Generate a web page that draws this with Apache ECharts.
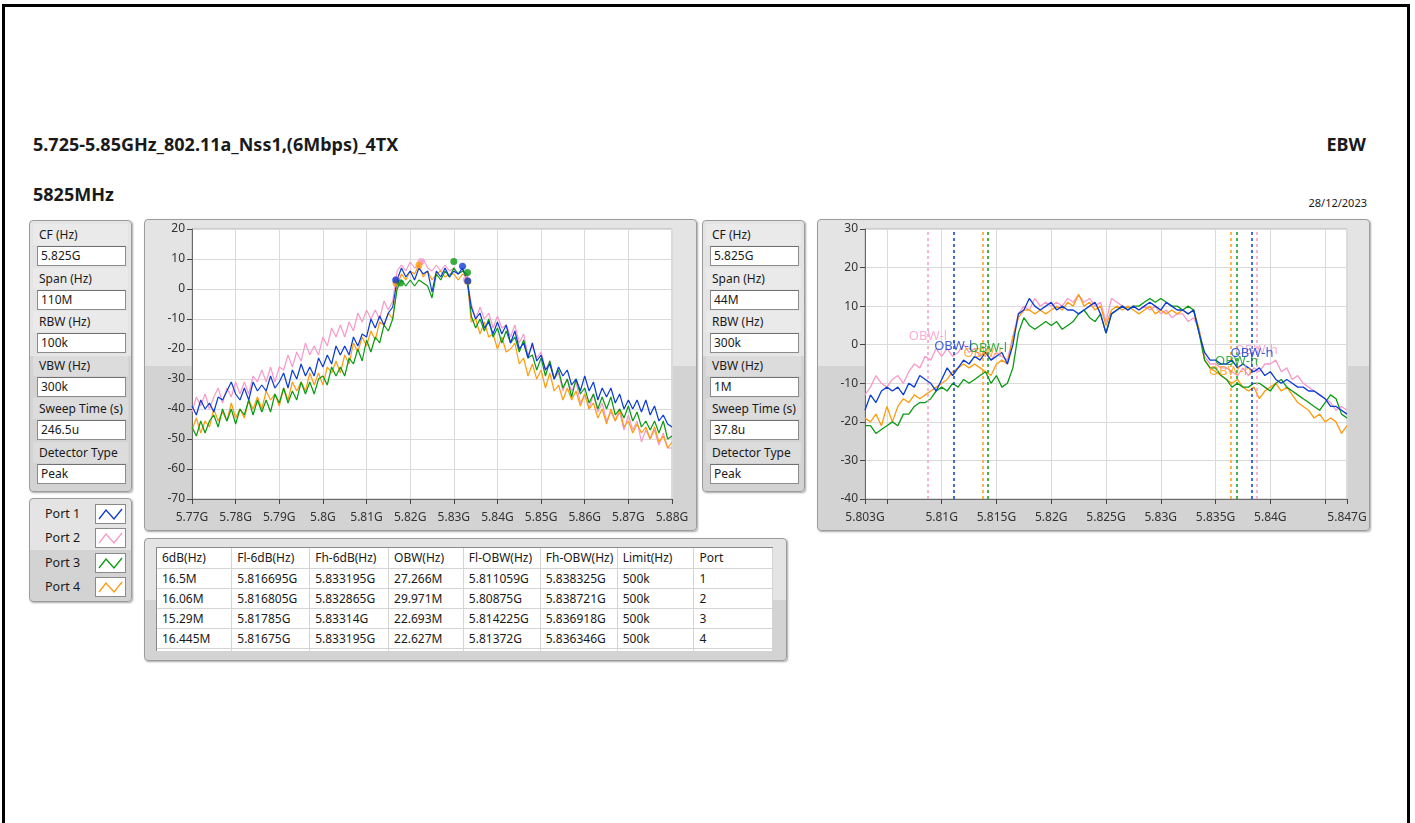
<!DOCTYPE html>
<html><head><meta charset="utf-8">
<script src="https://cdn.jsdelivr.net/npm/echarts@6/dist/echarts.min.js"></script>
<style>
html,body{margin:0;padding:0;background:#fff;}
body{width:1415px;height:823px;position:relative;overflow:hidden;font-family:"Noto Sans",sans-serif;color:#1a1a1a;}
.frame{position:absolute;left:2px;top:4px;width:1402px;height:900px;border:3px solid #000;border-bottom:none;}
.t{position:absolute;white-space:nowrap;}
.panel{position:absolute;box-sizing:border-box;border:1px solid #9c9c9c;border-radius:4px;
  background:linear-gradient(#e4e4e4 0,#e4e4e4 50%,#d3d3d3 50%,#d3d3d3 100%);box-shadow:1px 1px 2px rgba(0,0,0,0.35);}
.cpanel{background:linear-gradient(#e4e4e4 0,#e4e4e4 47%,#d3d3d3 47%,#d3d3d3 100%);}
.plab{position:absolute;left:3px;width:95px;height:21px;line-height:21px;font-size:12px;padding-left:6px;box-sizing:border-box;background:rgba(255,255,255,0.22);}
.pbox{position:absolute;left:7px;width:89px;height:20px;box-sizing:border-box;border:1px solid #8c8c8c;border-top-color:#707070;background:#fff;font-size:12px;line-height:18px;padding-left:3px;}
.lrow{position:absolute;left:0;width:100px;height:20px;}
.ltxt{position:absolute;left:15px;top:0;font-size:12.5px;line-height:20px;}
.licon{position:absolute;left:65px;top:0;width:31px;height:20px;box-sizing:border-box;border:1px solid #8a8a8a;background:#fff;}
table{border-collapse:collapse;table-layout:fixed;font-size:12px;}
td{border-right:1px solid #d4d4d4;border-bottom:1px solid #d4d4d4;padding:0 0 0 5px;height:19px;line-height:19px;white-space:nowrap;overflow:hidden;}
#chart{position:absolute;left:0;top:0;width:1415px;height:823px;z-index:2;}
</style></head><body>
<div class="frame"></div>
<div class="t" id="title" style="left:33px;top:132px;font-size:18px;font-weight:bold;">5.725-5.85GHz_802.11a_Nss1,(6Mbps)_4TX</div>
<div class="t" style="right:49px;top:132px;font-size:18px;font-weight:bold;">EBW</div>
<div class="t" style="left:33px;top:182px;font-size:18px;font-weight:bold;">5825MHz</div>
<div class="t" style="right:48px;top:195px;font-size:11px;">28/12/2023</div>
<div class="panel" id="paramL" style="left:29px;top:220px;width:103px;height:272px;"></div>
<div class="panel" id="paramR" style="left:702px;top:220px;width:103px;height:272px;"></div>
<div class="panel" id="legend" style="left:29px;top:498px;width:103px;height:104px;"></div>
<div class="panel cpanel" style="left:144px;top:219px;width:553px;height:312px;"></div>
<div class="panel cpanel" style="left:817px;top:219px;width:553px;height:312px;"></div>
<div class="panel" style="left:144px;top:538px;width:643px;height:123px;">
  <div style="position:absolute;left:11px;top:8px;width:617px;height:104px;background:#fff;border-left:1px solid #8a8a8a;border-top:1px solid #8a8a8a;box-sizing:border-box;overflow:hidden;">
    <table id="tbl"></table>
  </div>
</div>
<div id="chart"></div>
<script>
// ---------- data ----------
const ports = ['Port 1','Port 2','Port 3','Port 4'];
const portColors = ['#0b3bd6','#f79ac9','#0a9a12','#ff9b0f'];
const paramLabels = ['CF (Hz)','Span (Hz)','RBW (Hz)','VBW (Hz)','Sweep Time (s)','Detector Type'];
const paramValuesL = ['5.825G','110M','100k','300k','246.5u','Peak'];
const paramValuesR = ['5.825G','44M','300k','1M','37.8u','Peak'];
const tableHeaders = ['6dB(Hz)','Fl-6dB(Hz)','Fh-6dB(Hz)','OBW(Hz)','Fl-OBW(Hz)','Fh-OBW(Hz)','Limit(Hz)','Port'];
const tableRows = [
  ['16.5M','5.816695G','5.833195G','27.266M','5.811059G','5.838325G','500k','1'],
  ['16.06M','5.816805G','5.832865G','29.971M','5.80875G','5.838721G','500k','2'],
  ['15.29M','5.81785G','5.83314G','22.693M','5.814225G','5.836918G','500k','3'],
  ['16.445M','5.81675G','5.833195G','22.627M','5.81372G','5.836346G','500k','4']
];
const colWidths = [75,78,79,75,77,77,77,79];

// left chart: 5770..5880 MHz, 1 MHz sweep points (dBm)
const p1L = [-39,-42,-37,-40,-38,-41,-36,-37,-34,-31,
  -35,-37,-33,-37,-31,-34,-32,-34,-29,-33,
  -31,-28,-33,-27,-30,-25,-29,-26,-29,-23,
  -26,-22,-25,-19,-22,-19,-22,-16,-19,-15,
  -16,-10,-13,-9,-12,-8,-6,
  3,7,4,6,3,7,5,6,-1,6,4,7,4,6,5,7,3,
  -6,-10,-8,-13,-11,-15,-11,-15,-12,-18,
  -14,-20,-18,-23,-18,-24,-22,-27,-25,-30,
  -26,-29,-27,-32,-30,-34,-29,-34,-31,-37,
  -33,-36,-33,-38,-35,-40,-37,-40,-37,-41,
  -37,-42,-39,-44,-42,-45,-46];
const p2L = [-41,-36,-39,-35,-40,-36,-33,-38,-33,-36,
  -31,-35,-31,-35,-29,-31,-27,-31,-26,-31,
  -26,-27,-22,-26,-21,-24,-18,-22,-19,-22,
  -16,-19,-13,-16,-12,-16,-11,-14,-8,-11,
  -7,-10,-7,-10,-4,-7,-4,
  6,8,6,9,7,8,10,7,6,8,6,8,6,7,5,6,4,
  -5,-10,-6,-10,-8,-13,-9,-13,-12,-16,
  -12,-18,-15,-22,-19,-23,-21,-27,-24,-30,
  -28,-34,-30,-34,-31,-38,-35,-40,-35,-41,
  -38,-44,-41,-44,-41,-47,-42,-47,-44,-51,
  -47,-50,-47,-52,-48,-53,-53];
const p3L = [-46,-49,-44,-48,-44,-42,-46,-40,-44,-40,
  -45,-40,-42,-37,-42,-37,-41,-37,-41,-35,
  -38,-33,-38,-34,-37,-31,-35,-31,-35,-30,
  -29,-32,-26,-29,-26,-29,-23,-25,-20,-24,
  -17,-21,-16,-18,-12,-14,-10,
  0,3,1,3,1,3,2,1,-3,5,3,6,4,7,5,6,5,
  -9,-13,-10,-14,-10,-16,-13,-18,-14,-18,
  -16,-21,-17,-23,-22,-27,-23,-29,-24,-30,
  -27,-33,-30,-36,-30,-35,-33,-38,-35,-40,
  -36,-40,-36,-42,-40,-43,-39,-44,-41,-46,
  -44,-47,-44,-48,-44,-50,-49];
const p4L = [-47,-43,-48,-44,-46,-40,-44,-41,-44,-38,
  -43,-40,-43,-37,-40,-36,-40,-34,-37,-35,
  -39,-33,-37,-31,-34,-31,-34,-28,-32,-28,
  -32,-26,-28,-24,-28,-22,-25,-18,-21,-16,
  -19,-14,-17,-11,-12,-8,-10,
  1,5,3,6,5,8,4,6,3,5,6,4,5,5,3,5,4,
  -11,-10,-15,-11,-16,-15,-20,-16,-21,-20,
  -18,-25,-23,-29,-25,-30,-27,-33,-28,-34,
  -32,-37,-33,-37,-34,-39,-35,-40,-38,-43,
  -40,-45,-40,-44,-40,-46,-44,-48,-45,-48,
  -46,-50,-46,-51,-49,-53,-51];
// 6 dB markers (MHz, dBm)
const mark6dB = [
  [[5816.695,3.0],[5832.0,7.6],[5833.195,2.7]],
  [[5816.805,3.2],[5822.5,9.2],[5832.865,3.2]],
  [[5817.785,2.0],[5830.0,9.2],[5833.14,5.5]],
  [[5816.75,2.0],[5822.0,8.0],[5833.195,2.5]]
];

// right chart: 5803..5847 MHz, 0.5 MHz sweep points (dBm)
const p1R = [-17,-13,-15,-12,-11,-12,-11,-13,-10,-11,
  -8,-9,-10,-12,-9,-6,-8,-6,-4,-5,
  -3,-4,-2,-4,-3,-2,-5,0,8,9,
  12,10,9,10,11,9,10,9,9,8,
  9,10,11,8,3,8,9,10,9,10,
  9,10,11,10,9,11,10,9,9,8,
  9,3,-2,-4,-4,-5,-5,-4,-6,-5,
  -6,-7,-6,-8,-7,-9,-10,-9,-10,-11,
  -11,-12,-12,-13,-14,-16,-16,-17,-18];
const p2R = [-13,-11,-8,-10,-11,-9,-8,-10,-7,-5,
  -6,-3,-4,-1,-3,-1,-3,-2,0,-2,
  -1,-3,-2,-4,-2,-3,-4,2,8,10,
  9,12,10,11,10,11,10,12,11,13,
  11,12,10,11,6,12,11,10,9,10,
  9,10,9,10,8,9,7,8,8,6,
  7,4,-3,-5,-5,-6,-6,-7,-8,-6,
  -8,-6,-7,-5,-5,-4,-7,-6,-9,-8,
  -10,-11,-12,-13,-14,-15,-17,-16,-17];
const p3R = [-21,-21,-23,-22,-21,-20,-21,-18,-18,-16,
  -15,-15,-14,-12,-11,-12,-10,-11,-9,-10,
  -9,-8,-7,-10,-8,-11,-10,-6,3,7,
  5,4,5,6,5,6,4,5,6,8,
  9,7,6,8,3,8,9,10,9,10,
  10,11,12,11,12,11,10,10,9,10,
  9,3,-4,-6,-6,-8,-9,-11,-10,-11,
  -11,-10,-10,-11,-12,-10,-9,-11,-12,-13,
  -14,-15,-16,-17,-15,-13,-14,-18,-19];
const p4R = [-19,-20,-18,-21,-16,-20,-16,-14,-15,-13,
  -14,-13,-12,-11,-10,-9,-7,-6,-5,-6,
  -5,-6,-7,-8,-5,-4,-5,2,7,9,
  9,8,9,8,9,10,9,11,10,13,
  10,11,9,10,5,9,10,9,10,9,
  8,9,10,8,9,8,9,8,9,8,
  9,4,-4,-6,-7,-8,-9,-10,-9,-11,
  -12,-11,-14,-12,-11,-10,-12,-11,-13,-15,
  -16,-17,-19,-18,-20,-19,-20,-23,-21];
// OBW limits (MHz) from the table and label heights (dBm)
const obwL = [5811.059,5808.75,5814.225,5813.72];
const obwH = [5838.325,5838.721,5836.918,5836.346];
const obwLabelYL = [-0.5,2.3,-0.9,-2.2];
const obwLabelYH = [-2.2,-1.4,-4.4,-7.0];

// tick values
const tickLeftX = {min:5770,max:5880,interval:10};
const tickRightX = [5803,5805,5810,5815,5820,5825,5830,5835,5840,5845,5847];
const labelRightX = [5803,5810,5815,5820,5825,5830,5835,5840,5847];

// ---------- sweep grids ----------
const freqL = []; for (let i = 0; i < p1L.length; i++) freqL.push(5770 + i);
const freqR = []; for (let i = 0; i < p1R.length; i++) freqR.push(5803 + i * 0.5);

// ---------- HTML panels ----------
function buildParams(id, vals){
  const el = document.getElementById(id);
  let h = '';
  paramLabels.forEach((lab, i) => {
    const top = 3 + i * 43.5;
    h += `<div class="plab" style="top:${top}px">${lab}</div>`;
    h += `<div class="pbox" style="top:${top + 22}px">${vals[i]}</div>`;
  });
  el.innerHTML = h;
}
buildParams('paramL', paramValuesL);
buildParams('paramR', paramValuesR);
(function(){
  const el = document.getElementById('legend');
  let h = '';
  ports.forEach((p, i) => {
    const top = 5 + i * 24.4;
    h += `<div class="lrow" style="top:${top}px"><div class="ltxt">${p}</div>
      <div class="licon"><svg width="29" height="18"><polyline points="3,14 10,5 18,14 26,4" fill="none" stroke="${portColors[i]}" stroke-width="1.3"/></svg></div></div>`;
  });
  el.innerHTML = h;
})();
(function(){
  const t = document.getElementById('tbl');
  let h = '<colgroup>' + colWidths.map(w => `<col style="width:${w}px">`).join('') + '</colgroup>';
  h += '<tr>' + tableHeaders.map(x => `<td style="height:20px;line-height:20px">${x}</td>`).join('') + '</tr>';
  tableRows.forEach(r => { h += '<tr>' + r.map(x => `<td>${x}</td>`).join('') + '</tr>'; });
  h += '<tr>' + tableHeaders.map(() => '<td></td>').join('') + '</tr>';
  t.innerHTML = h;
})();

// ---------- chart ----------
const pairs = (xs, ys) => xs.map((x, i) => [x, ys[i]]);
const fmtG = v => parseFloat((v / 1000).toFixed(4)) + 'G';
const axisText = {color:'#333', fontSize:12, fontFamily:'Noto Sans'};
function xAx(grid, extra){
  return Object.assign({
    type:'value', gridIndex:grid,
    axisLine:{show:true, onZero:false, lineStyle:{color:'#6a6a6a', width:1}},
    axisTick:{show:true, length:5, lineStyle:{color:'#444'}},
    axisLabel:Object.assign({margin:13, formatter:fmtG, showMinLabel:true, showMaxLabel:true, hideOverlap:false}, axisText),
    splitLine:{show:true, lineStyle:{color:'#dadada', width:1}}
  }, extra);
}
function yAx(grid, min, max){
  return {
    type:'value', gridIndex:grid, min:min, max:max, interval:10,
    axisLine:{show:true, onZero:false, lineStyle:{color:'#6a6a6a', width:1}},
    axisTick:{show:true, length:5, lineStyle:{color:'#444'}},
    axisLabel:Object.assign({margin:7}, axisText),
    splitLine:{show:true, lineStyle:{color:'#dadada', width:1}}
  };
}
const drawOrder = [1, 3, 2, 0];
const series = [];
const leftData = [p1L, p2L, p3L, p4L];
const rightData = [p1R, p2R, p3R, p4R];
drawOrder.forEach((i, k) => {
  series.push({type:'line', xAxisIndex:0, yAxisIndex:0, data:pairs(freqL, leftData[i]),
    symbol:'none', lineStyle:{color:portColors[i], width:1.2}, z:2 + k, silent:true});
});
drawOrder.forEach((i, k) => {
  series.push({type:'scatter', xAxisIndex:0, yAxisIndex:0, data:mark6dB[i],
    symbol:'circle', symbolSize:7, itemStyle:{color:portColors[i]}, z:10 + k, silent:true});
});
drawOrder.forEach((i, k) => {
  series.push({type:'line', xAxisIndex:1, yAxisIndex:1, data:pairs(freqR, rightData[i]),
    symbol:'none', lineStyle:{color:portColors[i], width:1.3}, z:2 + k, silent:true,
    markLine:{silent:true, symbol:'none', animation:false, label:{show:false},
      lineStyle:{color:portColors[i], type:[3,3], width:1.5},
      data:[{xAxis:obwL[i]}, {xAxis:obwH[i]}]}});
});
drawOrder.forEach((i, k) => {
  series.push({type:'scatter', xAxisIndex:1, yAxisIndex:1,
    data:[[obwL[i], obwLabelYL[i]], [obwH[i], obwLabelYH[i]]],
    symbolSize:1, itemStyle:{color:'rgba(0,0,0,0)'}, z:20 + k, silent:true,
    label:{show:true, position:'inside', color:portColors[i], fontSize:13, fontFamily:'Noto Sans',
      formatter:p => p.dataIndex === 0 ? 'OBW-l' : 'OBW-h'}});
});

const chart = echarts.init(document.getElementById('chart'), null, {renderer:'canvas'});
chart.setOption({
  animation:false,
  backgroundColor:'transparent',
  grid:[
    {left:192, top:229, width:480, height:270, show:true, backgroundColor:'#fff', borderColor:'#b8b8b8', borderWidth:1},
    {left:865, top:229, width:482, height:270, show:true, backgroundColor:'#fff', borderColor:'#b8b8b8', borderWidth:1}
  ],
  xAxis:[
    xAx(0, tickLeftX),
    xAx(1, {min:5803, max:5847,
      axisTick:{show:true, length:5, lineStyle:{color:'#444'}, customValues:tickRightX},
      axisLabel:Object.assign({margin:13, formatter:fmtG, customValues:labelRightX}, axisText)})
  ],
  yAxis:[yAx(0, -70, 20), yAx(1, -40, 30)],
  series:series
});
</script>
</body></html>
